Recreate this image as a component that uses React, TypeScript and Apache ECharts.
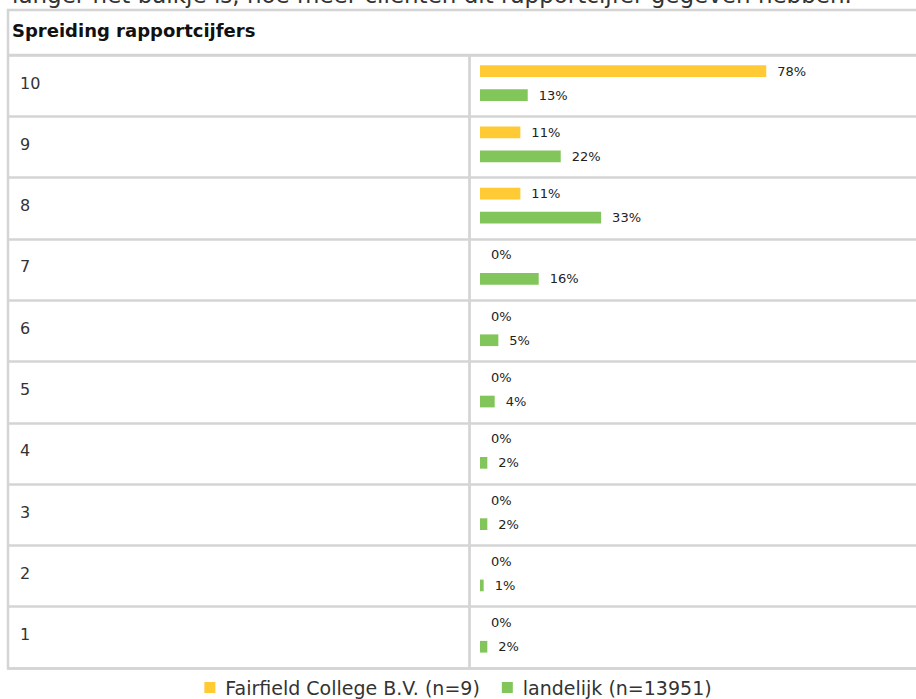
import React, { useEffect, useRef } from "react";
import * as echarts from "echarts";

const introText = "langer het balkje is, hoe meer cliënten dit rapportcijfer gegeven hebben.";
const tableTitle = "Spreiding rapportcijfers";
const categories = ["10", "9", "8", "7", "6", "5", "4", "3", "2", "1"];
const seriesNames = ["Fairfield College B.V. (n=9)", "landelijk (n=13951)"];
const schoolValues = [78, 11, 11, 0, 0, 0, 0, 0, 0, 0];
const nationalValues = [13, 22, 33, 16, 5, 4, 2, 2, 1, 2];

const FONT = "DejaVu Sans";
const LINE = "#d4d4d4";

export default function App() {
  const ref = useRef<HTMLDivElement>(null);
  useEffect(() => {
    if (!ref.current) return;
    const chart = echarts.init(ref.current, null, { renderer: "svg" });
    const barLabel = {
      show: true,
      position: "right",
      distance: 11,
      formatter: "{c}%",
      fontFamily: FONT,
      fontSize: 13,
      color: "#222",
    };
    chart.setOption({
      animation: false,
      backgroundColor: "#fff",
      textStyle: { fontFamily: FONT },
      grid: [
        { left: 8, right: 0, top: 55, height: 613, containLabel: false },
        { left: 480, width: 367, top: 52.4, height: 613, containLabel: false },
      ],
      xAxis: [
        { type: "value", gridIndex: 0, show: false, min: 0, max: 100 },
        { type: "value", gridIndex: 1, show: false, min: 0, max: 100 },
      ],
      yAxis: [
        {
          type: "category",
          gridIndex: 0,
          data: categories,
          inverse: true,
          axisLine: { show: false },
          axisTick: { show: false },
          axisLabel: { show: false },
          splitLine: { show: true, lineStyle: { color: LINE, width: 2.5 } },
        },
        {
          type: "category",
          gridIndex: 1,
          data: categories,
          inverse: true,
          axisLine: { show: false },
          axisTick: { show: false },
          splitLine: { show: false },
          axisLabel: {
            align: "left",
            margin: 460,
            fontFamily: FONT,
            fontSize: 16,
            color: "#333",
          },
        },
      ],
      legend: {
        top: 673,
        left: "center",
        itemWidth: 11,
        itemHeight: 11,
        itemGap: 22,
        icon: "rect",
        textStyle: {
          fontFamily: FONT,
          fontSize: 19,
          color: "#333",
          padding: [0, 0, 0, 5],
        },
        data: seriesNames,
      },
      graphic: [
        {
          type: "text",
          left: 12,
          top: -17,
          silent: true,
          style: { text: introText, font: `23px '${FONT}'`, fill: "#333" },
        },
        {
          type: "rect",
          shape: { x: 8, y: 10, width: 940, height: 658.5 },
          style: { fill: "none", stroke: LINE, lineWidth: 2.5 },
          silent: true,
        },
        {
          type: "line",
          shape: { x1: 8, y1: 55, x2: 916, y2: 55 },
          style: { stroke: LINE, lineWidth: 2.5 },
          silent: true,
        },
        {
          type: "line",
          shape: { x1: 469.5, y1: 55, x2: 469.5, y2: 668 },
          style: { stroke: LINE, lineWidth: 2.7 },
          silent: true,
        },
        {
          type: "text",
          x: 12,
          y: 30,
          silent: true,
          style: {
            text: tableTitle,
            font: `bold 18px '${FONT}'`,
            fill: "#111",
            verticalAlign: "middle",
          },
        },
      ],
      series: [
        {
          name: seriesNames[0],
          type: "bar",
          xAxisIndex: 1,
          yAxisIndex: 1,
          data: schoolValues,
          barWidth: 11.7,
          barGap: "105%",
          itemStyle: { color: "#FFCA33" },
          label: barLabel,
        },
        {
          name: seriesNames[1],
          type: "bar",
          xAxisIndex: 1,
          yAxisIndex: 1,
          data: nationalValues,
          barWidth: 11.7,
          barGap: "105%",
          itemStyle: { color: "#82C65B" },
          label: barLabel,
        },
      ],
    });
    return () => chart.dispose();
  }, []);
  return (
    <div
      ref={ref}
      style={{ position: "fixed", left: 0, top: 0, width: 916, height: 699 }}
    />
  );
}
